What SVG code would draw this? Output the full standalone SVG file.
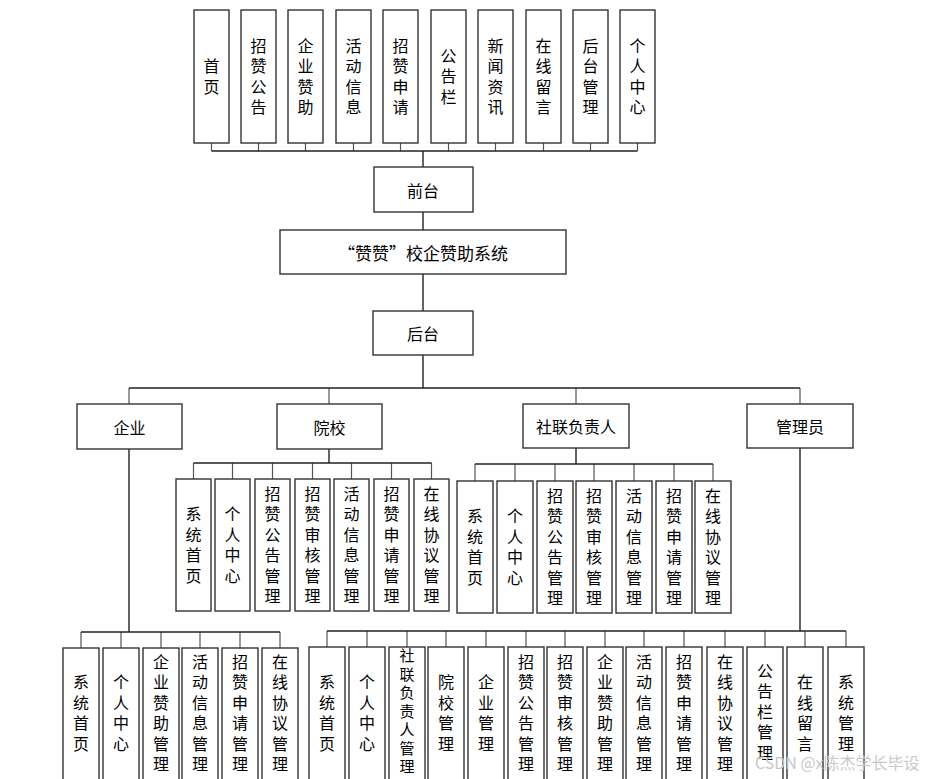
<svg xmlns="http://www.w3.org/2000/svg" width="951" height="779" viewBox="0 0 951 779">
<style>
rect{fill:#fff;stroke:#333;stroke-width:1.4}
text{font-family:"Noto Sans CJK SC","Liberation Sans",sans-serif;font-size:16px;fill:#000;text-anchor:middle;dominant-baseline:central}
.v{writing-mode:vertical-rl;letter-spacing:4.5px}
.vs{writing-mode:vertical-rl;letter-spacing:3.5px;font-size:15px}
.c path{fill:none;stroke:#222;stroke-width:1.4}
.s path{fill:none;stroke:#555;stroke-width:1.2}
.t{font-size:17px}
.wm{font-size:16px;fill:#c8c8c8;text-anchor:start}
</style>
<rect x="0" y="0" width="951" height="779" style="fill:#fff;stroke:none"/>
<g id="connectors">
<g class="s">
<path d="M211.5 143V151M258.5 143V151M305.5 143V151M353.5 143V151M400.5 143V151M448.5 143V151M495.5 143V151M543.5 143V151M590.5 143V151M637.5 143V151"/>
<path d="M193.5 463V479M232.5 463V479M272.5 463V479M312.5 463V479M351.5 463V479M391.5 463V479M431.5 463V479"/>
<path d="M475 464V481M515 464V481M555 464V481M594 464V481M634 464V481M674 464V481M713 464V481"/>
<path d="M81 632V648M121 632V648M161 632V648M200 632V648M240 632V648M280 632V648"/>
<path d="M327 631V647M367 631V647M407 631V647M446 631V647M486 631V647M526 631V647M565 631V647M605 631V647M644 631V647M684 631V647M725 631V647M765 631V647M805 631V647M846 631V647"/>
<path d="M129 388V404M329 388V404M576 388V404M800 388V404"/>
</g>
<g class="c">
<path d="M211.5 151H637.5M423 151V167M423 212V230M423 274V311M423 355V388M129 388H800"/>
<path d="M329 449V463M193.5 463H431.5"/>
<path d="M576 448V464M475 464H713"/>
<path d="M129 449V632M81 632H280"/>
<path d="M800 448V631M327 631H846"/>
</g>
</g>
<g id="top">
<g id="n-shouye"><rect x="194" y="10" width="35" height="133"/><text class="v" x="211.5" y="78.5">首页</text></g>
<g id="n-zzgg"><rect x="241" y="10" width="35" height="133"/><text class="v" x="258.5" y="78.5">招赞公告</text></g>
<g id="n-qyzz"><rect x="288" y="10" width="35" height="133"/><text class="v" x="305.5" y="78.5">企业赞助</text></g>
<g id="n-hdxx"><rect x="336" y="10" width="35" height="133"/><text class="v" x="353.5" y="78.5">活动信息</text></g>
<g id="n-zzsq"><rect x="383" y="10" width="35" height="133"/><text class="v" x="400.5" y="78.5">招赞申请</text></g>
<g id="n-ggl"><rect x="431" y="10" width="35" height="133"/><text class="v" x="448.5" y="78.5">公告栏</text></g>
<g id="n-xwzx"><rect x="478" y="10" width="35" height="133"/><text class="v" x="495.5" y="78.5">新闻资讯</text></g>
<g id="n-zxly"><rect x="526" y="10" width="35" height="133"/><text class="v" x="543.5" y="78.5">在线留言</text></g>
<g id="n-htgl"><rect x="573" y="10" width="35" height="133"/><text class="v" x="590.5" y="78.5">后台管理</text></g>
<g id="n-grzx"><rect x="620" y="10" width="35" height="133"/><text class="v" x="637.5" y="78.5">个人中心</text></g>
</g>
<g id="qiantai"><rect x="374" y="167" width="99" height="45"/><text x="423" y="189.5">前台</text></g>
<g id="title"><rect x="280" y="230" width="286" height="44"/><text class="t" x="423" y="252">“赞赞”校企赞助系统</text></g>
<g id="houtai"><rect x="373" y="311" width="100" height="44"/><text x="423" y="333">后台</text></g>
<g id="qiye"><rect x="77" y="404" width="105" height="45"/><text x="129.5" y="426.5">企业</text></g>
<g id="yuanxiao"><rect x="277" y="404" width="105" height="45"/><text x="329.5" y="426.5">院校</text></g>
<g id="shelian"><rect x="523" y="404" width="106" height="44"/><text x="576" y="426">社联负责人</text></g>
<g id="guanliyuan"><rect x="747" y="404" width="106" height="44"/><text x="800" y="426">管理员</text></g>
<g id="yx-children">
<g id="yx1"><rect x="176" y="479" width="35" height="132"/><text class="v" x="193.5" y="547">系统首页</text></g>
<g id="yx2"><rect x="215" y="479" width="35" height="132"/><text class="v" x="232.5" y="547">个人中心</text></g>
<g id="yx3"><rect x="255" y="479" width="35" height="132"/><text class="v" x="272.5" y="547">招赞公告管理</text></g>
<g id="yx4"><rect x="295" y="479" width="35" height="132"/><text class="v" x="312.5" y="547">招赞审核管理</text></g>
<g id="yx5"><rect x="334" y="479" width="35" height="132"/><text class="v" x="351.5" y="547">活动信息管理</text></g>
<g id="yx6"><rect x="374" y="479" width="35" height="132"/><text class="v" x="391.5" y="547">招赞申请管理</text></g>
<g id="yx7"><rect x="414" y="479" width="35" height="132"/><text class="v" x="431.5" y="547">在线协议管理</text></g>
</g>
<g id="sl-children">
<g id="sl1"><rect x="457" y="481" width="36" height="132"/><text class="v" x="475" y="549">系统首页</text></g>
<g id="sl2"><rect x="497" y="481" width="36" height="132"/><text class="v" x="515" y="549">个人中心</text></g>
<g id="sl3"><rect x="537" y="481" width="36" height="132"/><text class="v" x="555" y="549">招赞公告管理</text></g>
<g id="sl4"><rect x="576" y="481" width="36" height="132"/><text class="v" x="594" y="549">招赞审核管理</text></g>
<g id="sl5"><rect x="616" y="481" width="36" height="132"/><text class="v" x="634" y="549">活动信息管理</text></g>
<g id="sl6"><rect x="656" y="481" width="36" height="132"/><text class="v" x="674" y="549">招赞申请管理</text></g>
<g id="sl7"><rect x="695" y="481" width="36" height="132"/><text class="v" x="713" y="549">在线协议管理</text></g>
</g>
<g id="qy-children">
<g id="qy1"><rect x="63" y="648" width="36" height="134"/><text class="v" x="81" y="715">系统首页</text></g>
<g id="qy2"><rect x="103" y="648" width="36" height="134"/><text class="v" x="121" y="715">个人中心</text></g>
<g id="qy3"><rect x="143" y="648" width="36" height="134"/><text class="v" x="161" y="715">企业赞助管理</text></g>
<g id="qy4"><rect x="182" y="648" width="36" height="134"/><text class="v" x="200" y="715">活动信息管理</text></g>
<g id="qy5"><rect x="222" y="648" width="36" height="134"/><text class="v" x="240" y="715">招赞申请管理</text></g>
<g id="qy6"><rect x="262" y="648" width="36" height="134"/><text class="v" x="280" y="715">在线协议管理</text></g>
</g>
<g id="gl-children">
<g id="gl1"><rect x="309" y="647" width="36" height="135"/><text class="v" x="327" y="715">系统首页</text></g>
<g id="gl2"><rect x="349" y="647" width="36" height="135"/><text class="v" x="367" y="715">个人中心</text></g>
<g id="gl3"><rect x="389" y="647" width="36" height="135"/><text class="vs" x="407" y="713">社联负责人管理</text></g>
<g id="gl4"><rect x="428" y="647" width="36" height="135"/><text class="v" x="446" y="715">院校管理</text></g>
<g id="gl5"><rect x="468" y="647" width="36" height="135"/><text class="v" x="486" y="715">企业管理</text></g>
<g id="gl6"><rect x="508" y="647" width="36" height="135"/><text class="v" x="526" y="715">招赞公告管理</text></g>
<g id="gl7"><rect x="547" y="647" width="36" height="135"/><text class="v" x="565" y="715">招赞审核管理</text></g>
<g id="gl8"><rect x="587" y="647" width="36" height="135"/><text class="v" x="605" y="715">企业赞助管理</text></g>
<g id="gl9"><rect x="626" y="647" width="36" height="135"/><text class="v" x="644" y="715">活动信息管理</text></g>
<g id="gl10"><rect x="666" y="647" width="36" height="135"/><text class="v" x="684" y="715">招赞申请管理</text></g>
<g id="gl11"><rect x="707" y="647" width="36" height="135"/><text class="v" x="725" y="715">在线协议管理</text></g>
<g id="gl12"><rect x="747" y="647" width="36" height="135"/><text class="v" x="765" y="714">公告栏管理</text></g>
<g id="gl13"><rect x="787" y="647" width="36" height="135"/><text class="v" x="805" y="715">在线留言</text></g>
<g id="gl14"><rect x="828" y="647" width="36" height="135"/><text class="v" x="846" y="715">系统管理</text></g>
</g>
<text class="wm" x="755" y="762">CSDN @x陈杰学长毕设</text>
</svg>
